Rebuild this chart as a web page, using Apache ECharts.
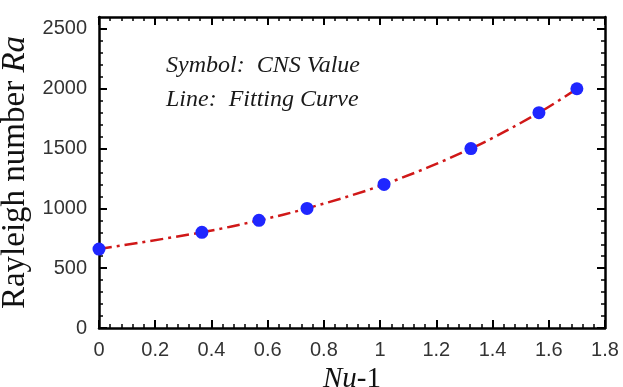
<!DOCTYPE html>
<html>
<head>
<meta charset="utf-8">
<script src="https://cdn.jsdelivr.net/npm/echarts@6/dist/echarts.min.js"></script>
<style>html,body{margin:0;padding:0;background:#fff}#c{width:623px;height:387px}</style>
</head>
<body>
<div id="c"></div>
<script>
// Data
const nuMinus1 = [0, 0.366, 0.569, 0.740, 1.014, 1.323, 1.565, 1.700];
const rayleigh = [660, 800, 900, 1000, 1200, 1500, 1800, 2000];
const yMajorTicks = [0, 500, 1000, 1500, 2000, 2500];
const yMinorTicks = [100,200,300,400,600,700,800,900,1100,1200,1300,1400,1600,1700,1800,1900,2100,2200,2300,2400];
const annotation = ['Symbol:  CNS Value', 'Line:  Fitting Curve'];

const points = nuMinus1.map((x, i) => [x, rayleigh[i]]);
const axisColor = '#000';
const labelFont = { fontFamily: 'Liberation Sans, Arial, sans-serif', fontSize: 20, color: '#333', formatter: v => String(+v.toFixed(2)) };

function xAx(pos, showLabel) {
  return {
    type: 'value', position: pos, min: 0, max: 1.8, interval: 0.2,
    axisLine: { show: true, onZero: false, lineStyle: { color: axisColor, width: 2.5 } },
    axisTick: { show: true, inside: true, length: 8, lineStyle: { color: axisColor, width: 2 } },
    minorTick: { show: true, splitNumber: 5, length: 4, lineStyle: { color: axisColor, width: 1.5 } },
    splitLine: { show: false }, minorSplitLine: { show: false },
    axisLabel: Object.assign({ show: showLabel, margin: 12 }, labelFont),
    name: showLabel ? '{i|Nu}{r|-1}' : '',
    nameLocation: 'middle', nameGap: 36,
    nameTextStyle: { rich: {
      i: { fontFamily: 'Liberation Serif, Times New Roman, serif', fontStyle: 'italic', fontSize: 29, color: '#111' },
      r: { fontFamily: 'Liberation Serif, Times New Roman, serif', fontSize: 29, color: '#111' }
    } }
  };
}
function yAx(pos, ticks, len, showLabel, showLine) {
  return {
    type: 'value', position: pos, min: 0, max: 2600,
    axisLine: { show: showLine, onZero: false, lineStyle: { color: axisColor, width: 2.5 } },
    axisTick: { show: true, inside: true, length: len, customValues: ticks, lineStyle: { color: axisColor, width: len > 5 ? 2 : 1.5 } },
    splitLine: { show: false },
    axisLabel: Object.assign({ show: showLabel, margin: 12, customValues: yMajorTicks }, labelFont),
    name: showLabel ? '{r|Rayleigh number }{i|Ra}' : '',
    nameLocation: 'middle', nameGap: 66, nameRotate: 90,
    nameTextStyle: { rich: {
      i: { fontFamily: 'Liberation Serif, Times New Roman, serif', fontStyle: 'italic', fontSize: 33, color: '#111' },
      r: { fontFamily: 'Liberation Serif, Times New Roman, serif', fontSize: 33, color: '#111' }
    } }
  };
}

const chart = echarts.init(document.getElementById('c'), null, { renderer: 'canvas' });
chart.setOption({
  animation: false,
  backgroundColor: '#fff',
  grid: { left: 99, top: 17, right: 18, bottom: 59, containLabel: false, outerBoundsMode: 'none' },
  xAxis: [xAx('bottom', true), xAx('top', false)],
  yAxis: [
    yAx('left', yMajorTicks, 8, true, true),
    yAx('left', yMinorTicks, 4, false, false),
    yAx('right', yMajorTicks, 8, false, true),
    yAx('right', yMinorTicks, 4, false, false)
  ],
  graphic: annotation.map((t, i) => ({
    type: 'text', left: 166, top: 54 + i * 34,
    style: { text: t, fontFamily: 'Liberation Serif, Times New Roman, serif', fontStyle: 'italic', fontSize: 24, fill: '#1a1a1a' }
  })),
  series: [
    {
      type: 'line', data: points, smooth: 0.35, symbol: 'none', xAxisIndex: 0, yAxisIndex: 0,
      lineStyle: { color: '#d01818', width: 2.5, type: [13, 5, 3, 5] }, z: 2
    },
    {
      type: 'scatter', data: points, symbol: 'circle', symbolSize: 13, xAxisIndex: 0, yAxisIndex: 0,
      itemStyle: { color: '#1f26ff', opacity: 1 }, z: 3
    }
  ]
});
</script>
</body>
</html>
